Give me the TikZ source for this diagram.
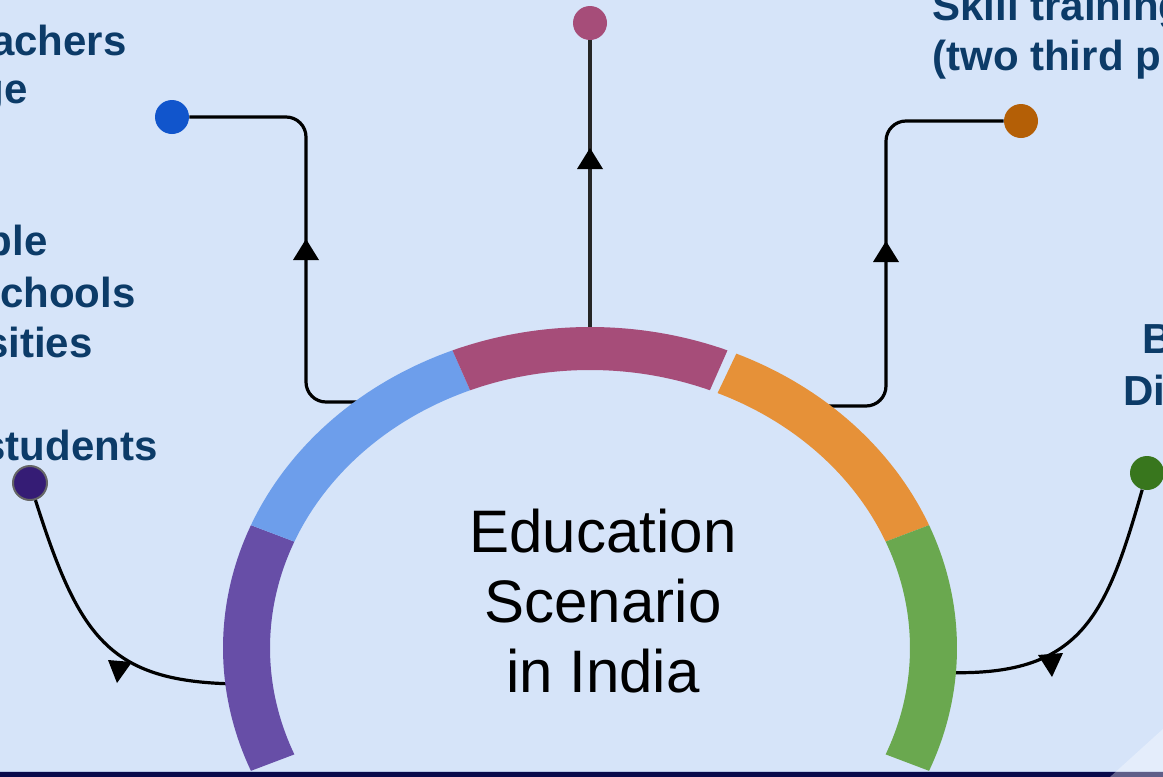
\documentclass[tikz,border=0pt]{standalone}
\usepackage{fontspec}
\setmainfont{Liberation Sans}
\definecolor{bgblue}{RGB}{214,228,249}
\definecolor{barnavy}{RGB}{10,10,75}
\definecolor{barline}{RGB}{180,196,228}
\definecolor{lblblue}{RGB}{12,59,104}
\definecolor{segpurple}{RGB}{103,78,167}
\definecolor{segblue}{RGB}{109,158,235}
\definecolor{segpink}{RGB}{166,77,121}
\definecolor{segorange}{RGB}{230,145,56}
\definecolor{seggreen}{RGB}{106,168,79}
\definecolor{dotblue}{RGB}{17,85,204}
\definecolor{dotorange}{RGB}{180,95,6}
\definecolor{dotpurple}{RGB}{53,28,117}
\definecolor{dotgreen}{RGB}{56,118,29}
\definecolor{stemgrey}{RGB}{38,38,38}

\begin{document}
\begin{tikzpicture}[x=0.5pt, y=-0.5pt,
 dot/.style={shape=circle, inner sep=0pt, minimum size=17pt},
 link/.style={line width=1.6pt, rounded corners=10pt},
 lbl/.style={font=\bfseries\fontsize{21}{25}\selectfont, text=lblblue, inner sep=0pt}
]

\path [clip] (0,0) rectangle (1163,777);
\fill[bgblue] (0,0) rectangle (1163,777);

% bottom band
\fill[barnavy] (0,772) rectangle (1163,777);
\draw[barline, line width=0.6pt] (0,771.3) -- (1163,771.3);

% dots
\node[dot, fill=dotblue] (dBlue) at (172,117) {};
\node[dot, fill=segpink] (dPink) at (590,23) {};
\node[dot, fill=dotorange] (dOrange) at (1021,121) {};
\node[dot, fill=dotpurple, draw=black!60, line width=1pt] (dPurple) at (30,483) {};
\node[dot, fill=dotgreen] (dGreen) at (1147,473) {};

% connectors, their feet hidden under the ring
\coordinate (aBlue) at (362,402);
\coordinate (aPink) at (590,340);
\coordinate (aOrange) at (820,406);
\coordinate (aPurple) at (245,684);
\coordinate (aGreen) at (935,672);

\draw[link] (aBlue) -- (306,402) -- (306,117) -- (dBlue);
\draw[link, draw=stemgrey] (aPink) -- (dPink);
\draw[link] (aOrange) -- (886,406) -- (886,121) -- (dOrange);
\draw[link] (aPurple) .. controls (110,684) and (80,640) .. (dPurple);
\draw[link] (aGreen) .. controls (1080,680) and (1105,620) .. (dGreen);

% arrow heads
\foreach \x/\y in {306/239, 590/148, 886/241}
 \fill (\x,\y) -- ++(-13,21) -- ++(26,0) -- cycle;
\fill (117,683) -- (108,660) -- (132,662) -- cycle;
\fill (1052,677) -- (1038,655) -- (1063,653) -- cycle;

% ring segments
\begin{scope}[shift={(590,648)}]
\foreach \a/\b/\c in {157.5/202.5/segpurple, 202.5/248/segblue, 248/292/segpink,
 293.5/337.5/segorange, 337.5/382.5/seggreen}
 \fill[\c] (\a:367 and 321) arc[start angle=\a, end angle=\b, x radius=367, y radius=321]
 -- (\b:320 and 278) arc[start angle=\b, end angle=\a, x radius=320, y radius=278] -- cycle;
\end{scope}

\node[font=\fontsize{30}{35}\selectfont, align=center, inner sep=0pt] (title) at (603,601)
 {Education\\Scenario\\in India};

% labels, cut by the edges
\node[lbl, anchor=base east] (tLa) at (127,55) {teachers};
\node[lbl, anchor=base east] (tLb) at (28,103) {ge};
\node[lbl, anchor=base east] (mLa) at (48,255) {ble};
\node[lbl, anchor=base east] (mLb) at (136,307) {schools};
\node[lbl, anchor=base east] (mLc) at (93,357) {universities};
\node[lbl, anchor=base east] (bL) at (158,460) {students};
\node[lbl, anchor=base west] (tRa) at (932,20) {Skill training};
\node[lbl, anchor=base west] (tRb) at (932,70) {(two third p};
\node[lbl, anchor=base west] (mRa) at (1142,353) {B};
\node[lbl, anchor=base west] (mRb) at (1123,405) {Di};

% light corner
\fill[white, opacity=0.35] (1110,777) -- (1163,729) -- (1163,777) -- cycle;

\end{tikzpicture}
\end{document}
